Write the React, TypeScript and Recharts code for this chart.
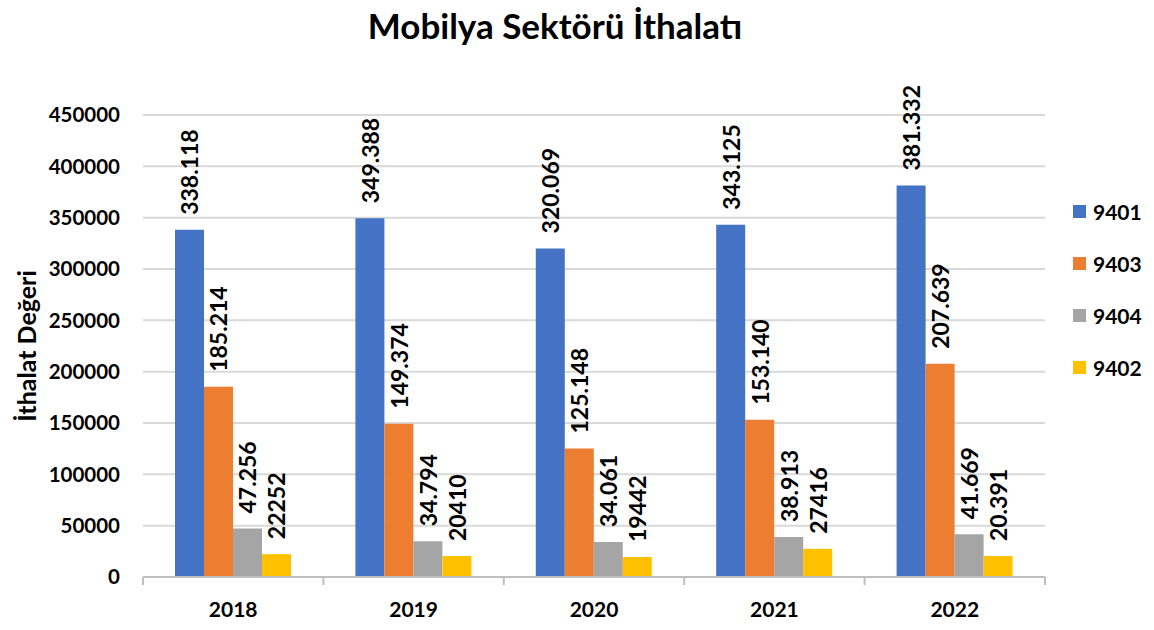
import React from 'react'
import { BarChart, Bar, XAxis, YAxis, CartesianGrid, LabelList } from 'recharts'

const years = ['2018', '2019', '2020', '2021', '2022']

const s9401 = [338118, 349388, 320069, 343125, 381332]
const s9403 = [185214, 149374, 125148, 153140, 207639]
const s9404 = [47256, 34794, 34061, 38913, 41669]
const s9402 = [22252, 20410, 19442, 27416, 20391]

// labels as printed on the chart (mixed formatting in the source)
const l9401 = ['338.118', '349.388', '320.069', '343.125', '381.332']
const l9403 = ['185.214', '149.374', '125.148', '153.140', '207.639']
const l9404 = ['47.256', '34.794', '34.061', '38.913', '41.669']
const l9402 = ['22252', '20410', '19442', '27416', '20.391']

const yTicks = [0, 50000, 100000, 150000, 200000, 250000, 300000, 350000, 400000, 450000]

const series = [
  { key: 'v9401', label: 'l9401', name: '9401', color: '#4472C4' },
  { key: 'v9403', label: 'l9403', name: '9403', color: '#ED7D31' },
  { key: 'v9404', label: 'l9404', name: '9404', color: '#A5A5A5' },
  { key: 'v9402', label: 'l9402', name: '9402', color: '#FFC000' },
]

const data = years.map((y, i) => ({
  year: y,
  v9401: s9401[i], v9403: s9403[i], v9404: s9404[i], v9402: s9402[i],
  l9401: l9401[i], l9403: l9403[i], l9404: l9404[i], l9402: l9402[i],
}))

const FONT = 'Lato, "Open Sans", sans-serif'
const W = 1154
const H = 630
const M = { top: 115, right: 109, bottom: 23, left: 0 }
const Y_W = 143
const HALF_BAND = (W - M.left - M.right - Y_W) / years.length / 2

const BarLabel = (props: any) => {
  const { x, y, width, value } = props
  const cx = Number(x) + Number(width) / 2
  const ty = Number(y) - 15
  return (
    <text
      x={cx} y={ty}
      transform={`rotate(-90, ${cx}, ${ty})`}
      textAnchor="start" dominantBaseline="central"
      fontFamily={FONT} fontWeight={700} fontSize={23} fill="#000"
    >
      {value}
    </text>
  )
}

const XTick = (props: any) => {
  const { x, y, payload, index } = props
  const last = index === years.length - 1
  return (
    <g>
      <line x1={x - HALF_BAND} x2={x - HALF_BAND} y1={y} y2={y + 8} stroke="#bfbfbf" strokeWidth={2} />
      {last && <line x1={x + HALF_BAND} x2={x + HALF_BAND} y1={y} y2={y + 8} stroke="#bfbfbf" strokeWidth={2} />}
      <text x={x} y={y + 31} textAnchor="middle" dominantBaseline="central"
        fontFamily={FONT} fontWeight={700} fontSize={21} fill="#000">
        {payload.value}
      </text>
    </g>
  )
}

export default function App() {
  return (
    <div style={{ position: 'absolute', left: 0, top: 0, width: W, height: H, background: '#fff', fontFamily: FONT }}>
      <div style={{ position: 'absolute', left: 0, top: 4, width: 1110, textAlign: 'center', fontSize: 35, fontWeight: 700, color: '#000' }}>
        Mobilya Sektörü İthalatı
      </div>
      <BarChart width={W} height={H} data={data} margin={M} barCategoryGap={32} barGap={0}>
        <CartesianGrid vertical={false} stroke="#d9d9d9" strokeWidth={2} />
        <XAxis
          dataKey="year"
          axisLine={{ stroke: '#bfbfbf', strokeWidth: 2 }}
          tickLine={false} tickSize={0} tickMargin={0}
          tick={<XTick />}
          interval={0}
        />
        <YAxis
          width={Y_W}
          domain={[0, 450000]}
          ticks={yTicks}
          axisLine={false} tickLine={false} tickSize={0} tickMargin={23}
          tick={{ fill: '#000', fontFamily: FONT, fontWeight: 700, fontSize: 20.5 }}
          label={{
            content: (p: any) => {
              const vb = p.viewBox
              const cx = 26
              const cy = vb.y + vb.height / 2
              return (
                <text x={cx} y={cy} transform={`rotate(-90, ${cx}, ${cy})`} textAnchor="middle" dominantBaseline="central"
                  fontFamily={FONT} fontWeight={700} fontSize={25} fill="#000">
                  İthalat Değeri
                </text>
              )
            },
          }}
        />
        {series.map((s) => (
          <Bar key={s.key} dataKey={s.key} name={s.name} fill={s.color} isAnimationActive={false}>
            <LabelList dataKey={s.label} content={<BarLabel />} />
          </Bar>
        ))}
      </BarChart>
      {series.map((s, i) => (
        <div key={s.key} style={{ position: 'absolute', left: 1073, top: 199 + i * 52, height: 24, display: 'flex', alignItems: 'center' }}>
          <div style={{ width: 13, height: 13, background: s.color, marginRight: 7 }} />
          <span style={{ fontSize: 21, fontWeight: 700, color: '#000' }}>{s.name}</span>
        </div>
      ))}
    </div>
  )
}
